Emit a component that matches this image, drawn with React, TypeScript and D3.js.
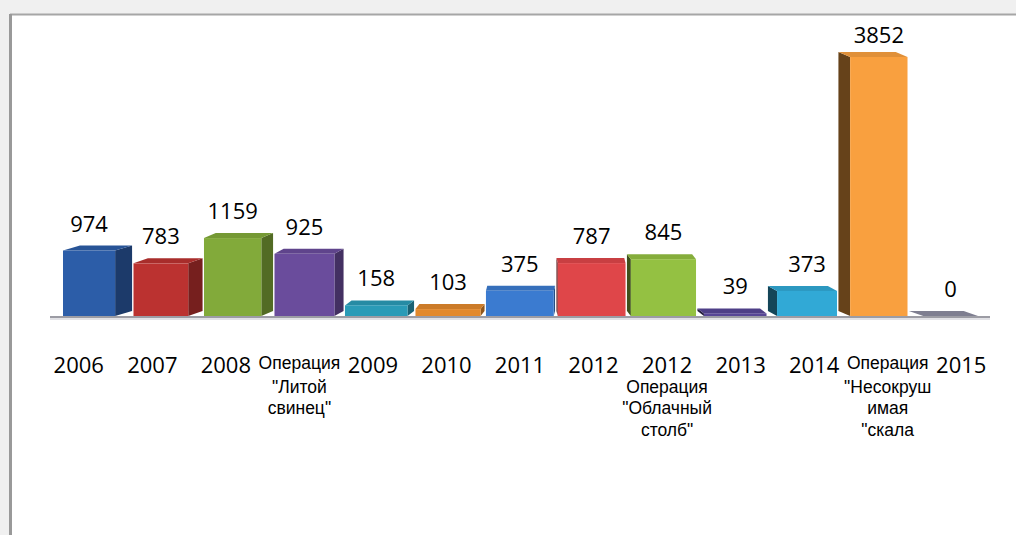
import * as d3 from 'd3';

const VALUES = [974, 783, 1159, 925, 158, 103, 375, 787, 845, 39, 373, 3852, 0];

const LABELS: string[][] = [
  ['2006'],
  ['2007'],
  ['2008'],
  ['Операция', '"Литой', 'свинец"'],
  ['2009'],
  ['2010'],
  ['2011'],
  ['2012'],
  ['2012', 'Операция', '"Облачный', 'столб"'],
  ['2013'],
  ['2014'],
  ['Операция', '"Несокруш', 'имая', '"скала'],
  ['2015'],
];

const COLORS = [
  '#2c5da8', '#bb3230', '#82aa3a', '#6a4c9c', '#2a9bb7', '#e3892c',
  '#3b7bd0', '#df4649', '#94c142', '#574696', '#31a9d6', '#f9a03f', '#8c8ca0',
];

const W = 1016;
const H = 535;
const BASE = 316;
const DEPTH_Y = 5;
const VANISH_X = 556;

export default function App() {
  const idx = VALUES.map((_, i) => String(i));
  const x = d3.scaleBand<string>().domain(idx).range([63, 978]).paddingInner(0.02);
  const xLab = d3.scaleBand<string>().domain(idx).range([42, 998]);
  const y = d3.scaleLinear().domain([0, 3852]).range([BASE, 57]);

  const bars = VALUES.map((v, i) => {
    const bx = x(String(i))!;
    const bw = x.bandwidth();
    const cx = bx + bw / 2;
    const dx = (VANISH_X - cx) * 0.037;
    const top = y(v);
    // front face spans the band minus the visible depth
    const fx0 = dx > 0 ? bx : bx - dx;
    const fx1 = dx > 0 ? bx + bw - dx : bx + bw;
    const base = d3.color(COLORS[i])!;
    return {
      v, i, dx, top, fx0, fx1,
      front: base.formatHex(),
      side: base.darker(dx > 0 ? 1.3 : 2.5).formatHex(),
      topFill: base.darker(0.3).formatHex(),
    };
  });

  return (
    <svg width={W} height={H} style={{ position: 'absolute', left: 0, top: 0 }}>
      <rect width={W} height={H} fill="#f0f0f0" />
      <rect x={10} y={14} width={W} height={H} fill="#ffffff" />
      <line x1={10} x2={W} y1={14.5} y2={14.5} stroke="#a6a6a6" strokeWidth={2} />
      <line x1={10.5} x2={10.5} y1={14} y2={H} stroke="#999999" strokeWidth={3} />

      {/* floor */}
      <line x1={50} x2={990} y1={BASE + 1} y2={BASE + 1} stroke="#9c9ca4" strokeWidth={2} />
      <line x1={50} x2={990} y1={BASE + 3} y2={BASE + 3} stroke="#e2e2e6" strokeWidth={2} />

      {bars.map(b => {
        const { fx0, fx1, dx, top } = b;
        const sideX = dx > 0 ? fx1 : fx0;
        const sidePts = [
          [sideX, top], [sideX + dx, top - DEPTH_Y],
          [sideX + dx, BASE - DEPTH_Y], [sideX, BASE],
        ];
        const topPts = [
          [fx0, top], [fx1, top], [fx1 + dx, top - DEPTH_Y], [fx0 + dx, top - DEPTH_Y],
        ];
        return (
          <g key={b.i}>
            <polygon points={sidePts.map(p => p.join(',')).join(' ')} fill={b.side} />
            <polygon points={topPts.map(p => p.join(',')).join(' ')} fill={b.topFill} />
            <rect x={fx0} y={top} width={fx1 - fx0} height={BASE - top} fill={b.front} />
            <text
              x={(fx0 + fx1) / 2}
              y={Math.max(top - 19, 43)}
              textAnchor="middle"
              fontFamily="'Open Sans', sans-serif"
              fontSize={22}
              fontWeight={500}
              fill="#000"
            >
              {b.v}
            </text>
          </g>
        );
      })}

      {LABELS.map((lines, i) => {
        const cx = xLab(String(i))! + xLab.bandwidth() / 2;
        return (
          <text key={i} textAnchor="middle" fill="#000">
            {lines.map((ln, k) => {
              const isYear = /^\d{4}$/.test(ln);
              const yy = k === 0 ? (isYear ? 373 : 369) : 371 + k * 21.5;
              return (
                <tspan
                  key={k}
                  x={cx}
                  y={yy}
                  fontFamily={isYear ? "'Open Sans', sans-serif" : "'Liberation Sans', Arial, sans-serif"}
                  fontSize={isYear ? 22 : 17.5}
                  fontWeight={isYear ? 500 : 400}
                >
                  {ln}
                </tspan>
              );
            })}
          </text>
        );
      })}
    </svg>
  );
}
